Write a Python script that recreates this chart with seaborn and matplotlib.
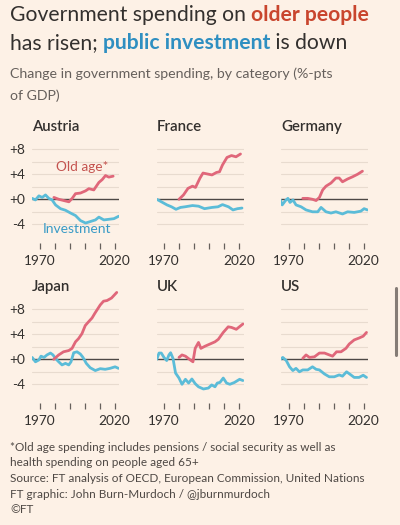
import numpy as np
import pandas as pd
import matplotlib
matplotlib.use("Agg")
import matplotlib.pyplot as plt
import matplotlib.lines as mlines
import seaborn as sns

# Values (year, %-pts of GDP change)
austria_invest = [(1965.1, 0.15), (1967.3, -0.1), (1969.6, 0.55), (1971.8, 0.3), (1974.0, 0.7),
                  (1976.2, 0.15), (1978.4, -0.1), (1980.7, -0.9), (1984.0, -1.5), (1987.3, -1.75),
                  (1990.7, -2.2), (1994.0, -2.6), (1997.3, -3.4), (2000.7, -3.8), (2004.0, -3.55),
                  (2007.3, -3.3), (2009.6, -2.85), (2012.9, -3.3), (2016.2, -3.2), (2019.6, -3.1),
                  (2022.9, -2.7)]
austria_oldage = [(1979.6, 0.3), (1982.9, 0.0), (1986.2, -0.2), (1989.6, -0.4), (1991.8, 0.15),
                  (1994.0, 0.9), (1997.3, 1.0), (2000.7, 1.35), (2002.9, 1.7), (2006.2, 1.5),
                  (2009.6, 2.7), (2011.8, 3.15), (2014.0, 3.8), (2016.2, 3.55), (2019.1, 3.7)]

france_invest = [(1965.2, 0.0), (1969.0, -0.5), (1972.0, -0.9), (1975.0, -1.2), (1978.0, -1.6),
                 (1981.0, -1.3), (1984.0, -1.2), (1989.0, -1.0), (1993.0, -1.1), (1997.0, -1.5),
                 (2002.0, -1.3), (2006.0, -1.2), (2009.0, -0.85), (2013.0, -1.2), (2016.0, -1.7),
                 (2019.0, -1.5), (2022.0, -1.4)]
france_oldage = [(1980.0, 0.0), (1983.0, 0.7), (1986.0, 1.75), (1989.0, 2.1), (1991.0, 1.9),
                 (1994.0, 3.4), (1996.0, 4.2), (2000.0, 4.0), (2002.0, 3.9), (2005.0, 4.3),
                 (2007.0, 4.4), (2009.0, 5.5), (2012.0, 6.7), (2015.0, 7.0), (2018.0, 6.8),
                 (2021.0, 7.25)]

germany_invest = [(1964.6, -0.1), (1965.8, -0.9), (1968.0, -0.2), (1969.6, 0.15), (1971.0, -0.5),
                  (1973.0, -0.1), (1975.0, -0.9), (1978.4, -1.2), (1981.7, -1.7), (1986.0, -2.0),
                  (1989.5, -2.0), (1991.7, -1.3), (1995.0, -2.0), (1998.3, -2.2), (2001.6, -2.0),
                  (2006.0, -2.35), (2009.4, -2.0), (2013.8, -2.1), (2018.2, -1.9), (2020.4, -1.5),
                  (2022.6, -1.7)]
germany_oldage = [(1979.5, 0.15), (1982.8, 0.15), (1986.0, 0.0), (1988.4, -0.2), (1990.6, 0.3),
                  (1992.8, 1.5), (1995.0, 2.1), (1998.3, 2.6), (2001.6, 3.4), (2003.8, 3.4),
                  (2006.0, 2.8), (2009.4, 3.25), (2012.7, 3.6), (2016.0, 4.0), (2019.3, 4.5)]

japan_invest = [(1965.1, 0.3), (1967.3, -0.4), (1969.6, -0.1), (1971.0, 0.5), (1973.0, 0.3),
                (1975.0, 0.7), (1977.3, 1.0), (1979.0, 0.7), (1980.6, 0.15), (1982.8, -0.4),
                (1985.0, -0.9), (1987.3, -0.65), (1989.5, -0.9), (1991.0, -0.4), (1992.8, 1.05),
                (1995.0, 1.2), (1997.2, 0.85), (1999.0, 0.3), (2001.2, -0.65), (2003.8, -1.35),
                (2007.2, -1.8), (2010.5, -1.5), (2013.8, -1.6), (2017.0, -1.45), (2020.4, -1.2),
                (2022.7, -1.45)]
japan_oldage = [(1979.5, 0.0), (1982.8, 0.7), (1986.0, 1.2), (1989.5, 1.4), (1991.7, 1.75),
                (1994.0, 2.8), (1996.0, 3.3), (1998.3, 4.1), (2000.5, 5.4), (2002.7, 6.0),
                (2005.0, 6.6), (2007.0, 7.4), (2010.5, 8.7), (2012.7, 9.3), (2015.0, 9.4),
                (2018.0, 9.8), (2021.5, 10.7)]

uk_invest = [(1965.2, 0.0), (1966.7, 1.0), (1968.2, 1.0), (1970.0, 0.3), (1971.8, -0.2),
             (1973.3, 0.7), (1974.4, 1.05), (1976.0, 0.15), (1977.7, -2.2), (1980.0, -3.0),
             (1982.0, -4.0), (1984.3, -3.2), (1986.4, -3.8), (1988.6, -3.15), (1990.8, -3.9),
             (1993.0, -4.4), (1996.3, -4.75), (1999.6, -4.6), (2001.8, -4.1), (2004.0, -4.4),
             (2005.5, -3.8), (2007.3, -3.7), (2009.5, -3.0), (2011.7, -3.8), (2013.9, -4.0),
             (2017.0, -3.7), (2020.4, -3.2), (2022.6, -3.4)]
uk_oldage = [(1980.0, 0.3), (1982.0, 0.7), (1984.3, 0.5), (1987.5, -0.1), (1989.3, -0.4),
             (1990.8, 1.75), (1993.0, 2.7), (1994.6, 1.75), (1997.4, 2.1), (2000.7, 2.45),
             (2004.0, 2.8), (2006.2, 3.2), (2009.5, 4.3), (2012.8, 5.2), (2015.0, 5.1),
             (2018.2, 4.8), (2022.6, 5.65)]

us_invest = [(1964.6, 0.0), (1966.2, 0.3), (1968.5, -0.2), (1970.7, -1.2), (1972.9, -1.8),
             (1975.0, -1.45), (1977.3, -2.0), (1979.5, -1.7), (1982.8, -1.7), (1986.0, -1.2),
             (1988.4, -1.6), (1990.6, -1.7), (1994.0, -2.35), (1997.2, -2.8), (2000.5, -2.8),
             (2003.8, -2.5), (2006.0, -2.7), (2008.7, -2.0), (2011.6, -2.5), (2013.8, -2.9),
             (2017.0, -2.9), (2019.8, -2.55), (2022.0, -2.9)]
us_oldage = [(1979.5, 0.15), (1981.7, 0.7), (1984.0, 0.3), (1987.3, 0.4), (1990.6, 1.0),
             (1994.0, 1.0), (1997.2, 0.7), (1999.4, 0.5), (2002.0, 1.2), (2005.0, 1.2),
             (2008.3, 1.75), (2010.5, 2.45), (2013.8, 3.1), (2017.0, 3.4), (2019.8, 3.7),
             (2022.0, 4.3)]

countries = ["Austria", "France", "Germany", "Japan", "UK", "US"]
invest_series = [austria_invest, france_invest, germany_invest, japan_invest, uk_invest, us_invest]
oldage_series = [austria_oldage, france_oldage, germany_oldage, japan_oldage, uk_oldage, us_oldage]

y_ticks = [8, 4, 0, -4]
y_tick_labels = ["+8", "+4", "+0", "-4"]
x_ticks = [1970, 1980, 1990, 2000, 2010, 2020]
x_tick_labels = ["1970", "", "", "", "", "2020"]

BG = "#fdf1e6"
RED = "#e0677a"
BLUE = "#5bbcd8"
INK = "#33302e"
W, H = 400, 525

sns.set_theme(style="white")
plt.rcParams["font.family"] = ["Lato", "DejaVu Sans"]

fig = plt.figure(figsize=(W / 100, H / 100), dpi=100, facecolor=BG)

# panel geometry in pixels
col_left = [32, 156.5, 281]
ax_w = 87
row_zero = [199.3, 359.3]
unit = 6.25
ylim = (-7, 11.5)


def px_axes(left, top, width, height):
    return [left / W, 1 - (top + height) / H, width / W, height / H]


for i, name in enumerate(countries):
    r, c = divmod(i, 3)
    top = row_zero[r] - ylim[1] * unit
    height = (ylim[1] - ylim[0]) * unit
    ax = fig.add_axes(px_axes(col_left[c], top, ax_w, height))
    ax.set_facecolor("none")

    df = pd.concat([
        pd.DataFrame(invest_series[i], columns=["year", "value"]).assign(series="Investment"),
        pd.DataFrame(oldage_series[i], columns=["year", "value"]).assign(series="Old age"),
    ])

    for yv in [8, 6, 4, 2, -2, -4]:
        ax.axhline(yv, color="#e8dbcf", lw=0.8, zorder=0)
    ax.axhline(0, color="#4d4845", lw=1.0, zorder=1)

    sns.lineplot(data=df, x="year", y="value", hue="series",
                 palette={"Investment": BLUE, "Old age": RED},
                 estimator=None, sort=False, lw=2.0, legend=False, ax=ax, zorder=3)

    ax.set_xlim(1965, 2023)
    ax.set_ylim(*ylim)
    ax.set_xlabel("")
    ax.set_ylabel("")
    for s in ax.spines.values():
        s.set_visible(False)
    ax.set_xticks(x_ticks)
    ax.set_xticklabels(x_tick_labels)
    ax.tick_params(axis="x", bottom=True, direction="out", length=4.5, width=0.9,
                   color="#66605c", pad=4, labelsize=9.8, labelcolor=INK)
    if c == 0:
        ax.set_yticks(y_ticks)
        ax.set_yticklabels(y_tick_labels)
        ax.tick_params(axis="y", left=False, length=0, pad=5, labelsize=9.8, labelcolor=INK)
    else:
        ax.set_yticks([])

    ax.text(0, 1 - (ylim[1] - 10.9) / (ylim[1] - ylim[0]), name, transform=ax.transAxes,
            ha="left", va="baseline", fontsize=10.8, fontweight="semibold", color=INK)

    if name == "Austria":
        ax.text(1998.7, 4.6, "Old age*", ha="center", va="baseline",
                fontsize=9.8, color="#c4534f")
        ax.text(1995.3, -5.4, "Investment", ha="center", va="baseline",
                fontsize=10, color="#3a9bc6")

# title with coloured phrases
renderer = fig.canvas.get_renderer()


def pieces_line(parts, x, y, size):
    for txt, color, weight in parts:
        t = fig.text(x / W, 1 - y / H, txt, fontsize=size, color=color,
                     fontweight=weight, ha="left", va="baseline")
        x = t.get_window_extent(renderer).x1


pieces_line([("Government spending on ", INK, "normal"),
             ("older people", "#c9452d", "bold")], 10, 21, 15.2)
pieces_line([("has risen; ", INK, "normal"),
             ("public investment", "#2f8fc1", "bold"),
             (" is down", INK, "normal")], 10, 49, 15.2)

fig.text(10 / W, 1 - 78 / H, "Change in government spending, by category (%-pts",
         fontsize=10.2, color="#66605c", va="baseline")
fig.text(10 / W, 1 - 100 / H, "of GDP)", fontsize=10.2, color="#66605c", va="baseline")

notes = ["*Old age spending includes pensions / social security as well as",
         "health spending on people aged 65+",
         "Source: FT analysis of OECD, European Commission, United Nations",
         "FT graphic: John Burn-Murdoch / @jburnmurdoch",
         "\u00a9FT"]
for k, line in enumerate(notes):
    fig.text(10 / W, 1 - (451 + k * 15.5) / H, line, fontsize=8.5, color="#4e4844",
             va="baseline")

# scroll indicator at the right edge of the screenshot
fig.add_artist(mlines.Line2D([395.5 / W, 395.5 / W], [1 - 288 / H, 1 - 355 / H],
                             transform=fig.transFigure, color="#857c76", lw=2.2))

fig.savefig("out.png", dpi=100, facecolor=BG)
